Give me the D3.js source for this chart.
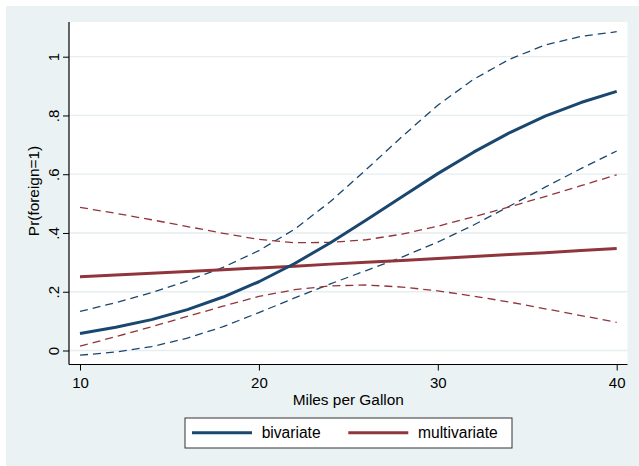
<!DOCTYPE html>
<html>
<head>
<meta charset="utf-8">
<script src="https://cdn.jsdelivr.net/npm/d3@7"></script>
<style>
  body { margin: 0; background: #fff; }
  svg { display: block; font-family: "Liberation Sans", Arial, Helvetica, sans-serif; }
</style>
</head>
<body>
<svg id="chart" width="639" height="466"></svg>
<script>
// data (predicted Pr(foreign=1) by mpg)
var mpg = [10, 12, 14, 16, 18, 20, 22, 24, 26, 28, 30, 32, 34, 36, 38, 40];

var bivariate      = [0.058, 0.079, 0.105, 0.139, 0.182, 0.234, 0.296, 0.367, 0.444, 0.523, 0.602, 0.675, 0.741, 0.798, 0.844, 0.882];
var bivariateUpper = [0.133, 0.163, 0.197, 0.237, 0.283, 0.340, 0.413, 0.507, 0.616, 0.728, 0.835, 0.923, 0.991, 1.040, 1.069, 1.085];
var bivariateLower = [-0.016, -0.005, 0.013, 0.042, 0.081, 0.129, 0.179, 0.227, 0.272, 0.318, 0.369, 0.427, 0.491, 0.556, 0.619, 0.679];

var multivariate      = [0.251, 0.257, 0.263, 0.269, 0.275, 0.281, 0.287, 0.294, 0.300, 0.306, 0.313, 0.320, 0.327, 0.333, 0.340, 0.347];
var multivariateUpper = [0.487, 0.467, 0.445, 0.422, 0.399, 0.378, 0.367, 0.368, 0.377, 0.396, 0.423, 0.455, 0.489, 0.524, 0.561, 0.598];
var multivariateLower = [0.015, 0.047, 0.081, 0.116, 0.151, 0.184, 0.207, 0.220, 0.223, 0.216, 0.203, 0.185, 0.165, 0.142, 0.119, 0.096];

var xTicks = [10, 20, 30, 40];
var yTicks = [0, 0.2, 0.4, 0.6, 0.8, 1];
var yTickLabels = ["0", ".2", ".4", ".6", ".8", "1"];
var legendLabels = ["bivariate", "multivariate"];

var blue = "#1a476f", red = "#90353b";

var svg = d3.select("#chart");

// plot region
var plotLeft = 69, plotRight = 627.5, plotTop = 22, plotBottom = 364.5;

var x = d3.scaleLinear().domain([10, 40]).range([80, 616.7]);
var y = d3.scaleLinear().domain([0, 1]).range([350.5, 56.7]);

// graph background
svg.append("rect")
  .attr("x", 6).attr("y", 6)
  .attr("width", 633).attr("height", 460)
  .attr("fill", "#eaf2f3");

svg.append("rect")
  .attr("x", plotLeft).attr("y", plotTop)
  .attr("width", plotRight - plotLeft).attr("height", plotBottom - plotTop)
  .attr("fill", "#fff");

// gridlines
svg.append("g").selectAll("line")
  .data(yTicks)
  .enter().append("line")
    .attr("x1", plotLeft).attr("x2", plotRight)
    .attr("y1", function(d) { return y(d); })
    .attr("y2", function(d) { return y(d); })
    .attr("stroke", "#e6eef0")
    .attr("stroke-width", 1.3);

// series
var series = [
  { values: bivariateUpper, color: blue, dash: true },
  { values: bivariateLower, color: blue, dash: true },
  { values: multivariateUpper, color: red, dash: true },
  { values: multivariateLower, color: red, dash: true },
  { values: multivariate, color: red, dash: false },
  { values: bivariate, color: blue, dash: false }
];

var line = d3.line()
  .x(function(d, i) { return x(mpg[i]); })
  .y(function(d) { return y(d); });

svg.append("g").selectAll("path")
  .data(series)
  .enter().append("path")
    .attr("d", function(s) { return line(s.values); })
    .attr("fill", "none")
    .attr("stroke", function(s) { return s.color; })
    .attr("stroke-width", function(s) { return s.dash ? 1.3 : 3; })
    .attr("stroke-dasharray", function(s) { return s.dash ? "8,5" : null; })
    .attr("stroke-linejoin", "round");

// x axis
var gx = svg.append("g")
  .attr("transform", "translate(0," + plotBottom + ")")
  .call(d3.axisBottom(x).tickValues(xTicks).tickSize(6).tickFormat(d3.format("d")));
gx.select(".domain").remove();
gx.selectAll(".tick line").attr("stroke", "#000");
gx.selectAll(".tick text")
  .attr("y", 23.5).attr("dy", null)
  .attr("font-size", 15).attr("fill", "#000");
gx.append("line")
  .attr("x1", plotLeft).attr("x2", plotRight)
  .attr("stroke", "#000").attr("stroke-width", 1.2);

// y axis
var gy = svg.append("g")
  .attr("transform", "translate(" + plotLeft + ",0)")
  .call(d3.axisLeft(y).tickValues(yTicks).tickSize(6)
    .tickFormat(function(d, i) { return yTickLabels[i]; }));
gy.select(".domain").remove();
gy.selectAll(".tick line").attr("stroke", "#000");
gy.selectAll(".tick text")
  .attr("x", null).attr("dy", null)
  .attr("transform", "translate(-10.5,0) rotate(-90)")
  .attr("text-anchor", "middle")
  .attr("font-size", 15).attr("fill", "#000");
gy.append("line")
  .attr("y1", plotTop).attr("y2", plotBottom)
  .attr("stroke", "#000").attr("stroke-width", 1.2);

// axis titles
svg.append("text")
  .attr("x", (plotLeft + plotRight) / 2).attr("y", 405)
  .attr("text-anchor", "middle")
  .attr("font-size", 15.4)
  .text("Miles per Gallon");

svg.append("text")
  .attr("transform", "translate(39,191) rotate(-90)")
  .attr("text-anchor", "middle")
  .attr("font-size", 15.4)
  .text("Pr(foreign=1)");

// legend
var legend = svg.append("g").attr("transform", "translate(185,418)");
legend.append("rect")
  .attr("width", 327).attr("height", 30)
  .attr("fill", "#fff")
  .attr("stroke", "#333").attr("stroke-width", 1);

var items = legend.selectAll("g.item")
  .data(legendLabels)
  .enter().append("g")
    .attr("class", "item")
    .attr("transform", function(d, i) { return "translate(" + (7 + i * 156.3) + ",0)"; });

items.append("line")
  .attr("x1", 0).attr("x2", 60)
  .attr("y1", 14.7).attr("y2", 14.7)
  .attr("stroke", function(d, i) { return i === 0 ? blue : red; })
  .attr("stroke-width", 3);

items.append("text")
  .attr("x", 69.7).attr("y", 20.3)
  .attr("font-size", 15.6)
  .text(function(d) { return d; });
</script>
</body>
</html>
